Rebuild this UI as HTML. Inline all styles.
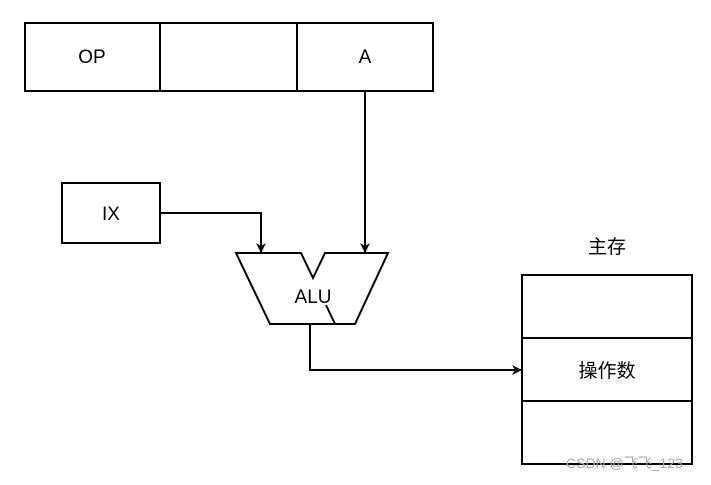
<!DOCTYPE html>
<html><head><style>body{margin:0;background:#fff}</style></head><body>
<svg width="711" height="480" viewBox="0 0 711 480" xmlns="http://www.w3.org/2000/svg" font-family="Liberation Sans, Noto Sans CJK SC, sans-serif" font-size="19">
<defs><marker id="a" markerWidth="10" markerHeight="10" refX="9" refY="5" orient="auto" markerUnits="userSpaceOnUse"><path d="M0,0 L10,5 L0,10 L3,5 z" fill="#000"/></marker></defs>
<g fill="none" stroke="#000" stroke-width="2">
<rect x="25" y="23" width="408" height="68"/>
<line x1="160" y1="23" x2="160" y2="91"/><line x1="297" y1="23" x2="297" y2="91"/>
<rect x="62" y="183" width="98" height="60"/>
<rect x="522" y="275" width="170" height="189"/>
<line x1="522" y1="338" x2="692" y2="338"/><line x1="522" y1="401" x2="692" y2="401"/>
<polygon points="236,253 301,253 313,278 325,253 388,253 355,324 270,324"/>
<line x1="326" y1="305" x2="335" y2="324"/>
<polyline points="160,213 261,213 261,252" marker-end="url(#a)"/>
<line x1="365" y1="91" x2="365" y2="252" marker-end="url(#a)"/>
<polyline points="310,324 310,370 521,370" marker-end="url(#a)"/>
</g>
<g text-anchor="middle" fill="#000">
<text x="92" y="63">OP</text><text x="365" y="63">A</text>
<text x="111" y="220">IX</text><text x="313" y="303">ALU</text>
<text x="607" y="253">主存</text><text x="607" y="377">操作数</text>
</g>
<text x="566" y="468" font-size="14" fill="#aaa">CSDN @飞飞_123</text>
</svg>
</body></html>
